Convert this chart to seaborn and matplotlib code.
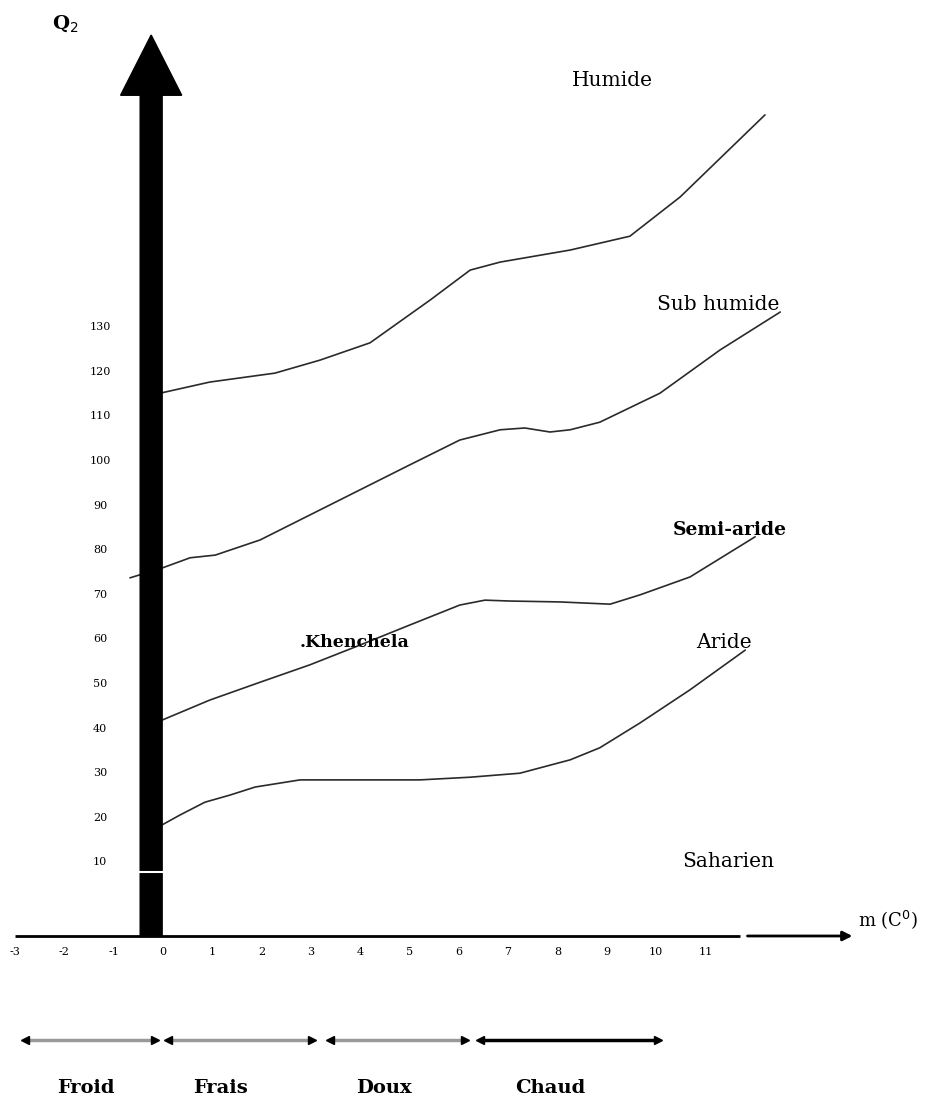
import matplotlib.pyplot as plt
import numpy as np
import pandas as pd
import seaborn as sns
from matplotlib.patches import FancyArrow

sns.set_style("white")
plt.rcParams["font.family"] = ["DejaVu Serif", "DejaVu Sans"]
plt.rcParams["text.color"] = "black"

# boundary curves of the Emberger climagram (m in C, Q2)
hum_x = [-0.06, 0.95, 2.27, 3.18, 4.2, 5.42, 6.23, 6.84, 8.26, 9.47, 10.49, 12.21]
hum_y = [115.2, 117.7, 119.7, 122.6, 126.5, 136.1, 142.8, 144.6, 147.3, 150.4, 159.2, 177.6]

sub_x = [-0.67, -0.02, 0.55, 1.06, 1.97, 2.98, 3.99, 5.0, 6.02, 6.84, 7.34, 7.85, 8.26, 8.86, 10.08, 11.3, 12.52]
sub_y = [73.8, 76.0, 78.3, 78.9, 82.3, 87.9, 93.5, 99.1, 104.7, 107.0, 107.4, 106.5, 107.0, 108.7, 115.2, 124.9, 133.4]

semi_x = [-0.02, 0.95, 1.97, 2.98, 3.99, 5.0, 6.02, 6.53, 7.04, 8.05, 9.07, 9.68, 10.69, 12.01]
semi_y = [41.9, 46.4, 50.4, 54.3, 58.7, 63.2, 67.7, 68.8, 68.6, 68.4, 67.9, 70.0, 74.0, 83.0]

ari_x = [-0.02, 0.34, 0.85, 1.36, 1.87, 2.78, 3.79, 5.21, 6.23, 7.24, 8.26, 8.86, 9.68, 10.69, 11.81]
ari_y = [18.4, 20.6, 23.5, 25.1, 26.9, 28.5, 28.5, 28.5, 29.1, 30.0, 33.0, 35.7, 41.3, 48.7, 57.6]

y_ticks = [10, 20, 30, 40, 50, 60, 70, 80, 90, 100, 110, 120, 130]
x_ticks = list(range(-3, 12))

zones = ["Humide", "Sub humide", "Semi-aride", "Aride", "Saharien"]
zone_x = [9.11, 11.26, 11.5, 11.38, 11.46]
zone_y = [185.3, 135.0, 84.5, 59.2, 10.1]
zone_bold = [False, False, True, False, False]

seasons = ["Froid", "Frais", "Doux", "Chaud"]
season_start = [-2.8, 0.1, 3.39, 6.43]
season_end = [-0.16, 3.02, 6.13, 10.04]
season_mid = [-1.56, 1.16, 4.48, 7.85]

station = "Khenchela"
station_x, station_y = 2.78, 59.2

frames = []
for name, xs, ys in [("hum", hum_x, hum_y), ("sub", sub_x, sub_y),
                     ("semi", semi_x, semi_y), ("ari", ari_x, ari_y)]:
    frames.append(pd.DataFrame({"m": xs, "Q2": ys, "curve": name}))
df = pd.concat(frames, ignore_index=True)

fig = plt.figure(figsize=(9.31, 11.02), dpi=100)
ax = fig.add_axes([0, 0, 1, 1])
ax.set_xlim(-3.306, 15.578)
ax.set_ylim(-43.72, 203.36)
ax.axis("off")

sns.lineplot(data=df, x="m", y="Q2", units="curve", estimator=None, sort=False,
             color="#2a2a2a", linewidth=1.2, ax=ax, zorder=2)

# thick Q2 axis arrow
axis_x = -0.24
ax.add_patch(FancyArrow(axis_x, -6.5, 0, 202.0, width=0.446, head_width=1.24,
                        head_length=13.5, length_includes_head=True,
                        color="black", zorder=3))
ax.plot([axis_x - 0.25, axis_x + 0.25], [7.85, 7.85], color="white", lw=1.5, zorder=4)
ax.text(-1.99, 198.0, "Q$_2$", fontsize=14, fontweight="bold", ha="center", va="center")

# m axis
ax.plot([-3.0, 11.7], [-6.5, -6.5], color="black", lw=2, solid_capstyle="butt")
ax.annotate("", xy=(14.04, -6.5), xytext=(11.8, -6.5),
            arrowprops=dict(arrowstyle="-|>", color="black", lw=2, mutation_scale=14))
ax.text(14.1, -2.9, "m (C$^0$)", fontsize=13, ha="left", va="center")

for t in y_ticks:
    ax.text(-1.28, t, str(t), fontsize=8, ha="center", va="center")
for t in x_ticks:
    ax.text(t, -10.1, str(t), fontsize=8, ha="center", va="center")

for name, zx, zy, b in zip(zones, zone_x, zone_y, zone_bold):
    ax.text(zx, zy, name, fontsize=13.5 if b else 14.5, ha="center", va="center",
            fontweight="bold" if b else "normal")

ax.text(station_x, station_y, "." + station, fontsize=12.5, fontweight="bold",
        ha="left", va="center")

for i, (name, s, e, mid) in enumerate(zip(seasons, season_start, season_end, season_mid)):
    col = "black" if i == 3 else "#999999"
    ax.plot([s, e], [-29.8, -29.8], color=col, lw=2.5, zorder=2)
    ax.plot([s], [-29.8], marker="<", color="black", markersize=6, zorder=3)
    ax.plot([e], [-29.8], marker=">", color="black", markersize=6, zorder=3)
    ax.text(mid, -40.6, name, fontsize=14, fontweight="bold",
            ha="center", va="center")

fig.savefig("out.png", dpi=100)
